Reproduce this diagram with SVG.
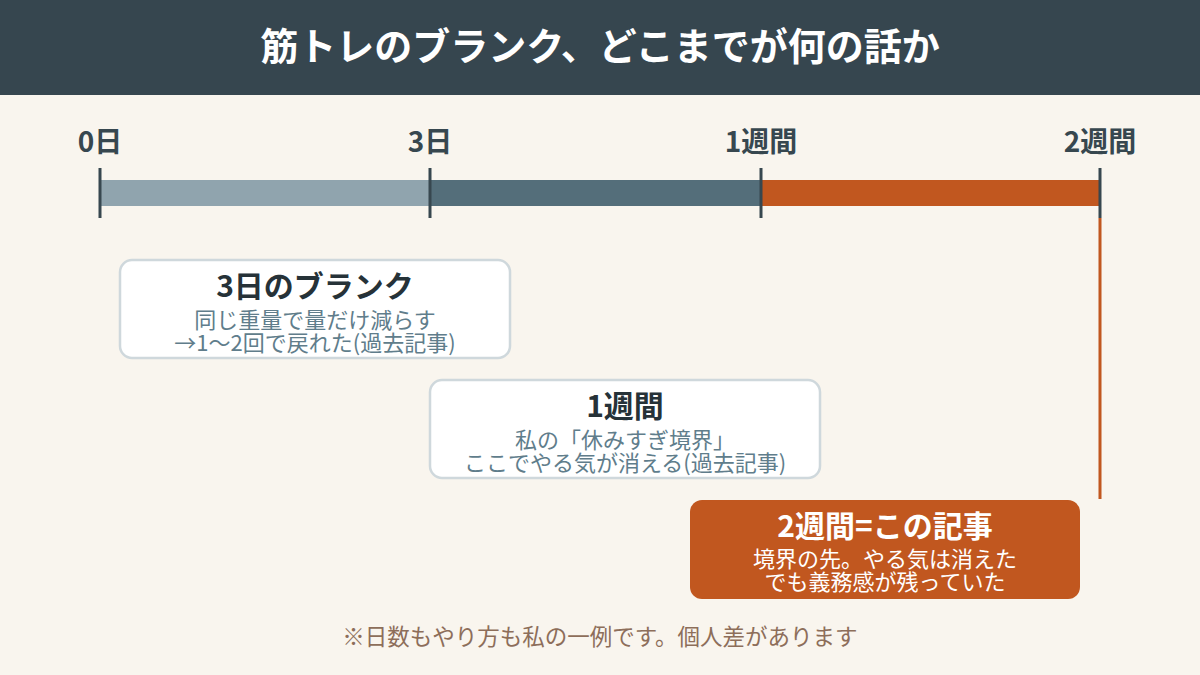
<svg xmlns="http://www.w3.org/2000/svg" width="1200" height="675" viewBox="0 0 1200 675">
<style>
text{font-family:"Noto Sans CJK JP","Noto Sans",sans-serif;text-anchor:middle}
.tick-label{font-size:28px;font-weight:700;fill:#37474f}
.tick{stroke:#37474f;stroke-width:3}
.card{fill:#ffffff;stroke:#cfd8dc;stroke-width:2.5}
.card-title{font-size:30px;font-weight:700;fill:#263238}
.card-text{font-size:22px;fill:#607d8b}
.hl{fill:#c1571f}
.hl-title{font-size:30px;font-weight:700;fill:#ffffff}
.hl-text{font-size:22px;fill:#ffffff}
</style>
<rect width="1200" height="675" fill="#f9f5ee"/>
<g id="header">
<rect width="1200" height="95" fill="#36464f"/>
<text x="600" y="60" font-size="38" font-weight="700" fill="#ffffff">筋トレのブランク、どこまでが何の話か</text>
</g>
<g id="timeline">
<rect x="100" y="180" width="330" height="26" fill="#90a4ae"/>
<rect x="430" y="180" width="331" height="26" fill="#546e7a"/>
<rect x="761" y="180" width="339" height="26" fill="#c1571f"/>
<line class="tick" x1="100" y1="168" x2="100" y2="218"/>
<line class="tick" x1="430" y1="168" x2="430" y2="218"/>
<line class="tick" x1="761" y1="168" x2="761" y2="218"/>
<line class="tick" x1="1100" y1="168" x2="1100" y2="218"/>
<text class="tick-label" x="100" y="152">0日</text>
<text class="tick-label" x="430" y="152">3日</text>
<text class="tick-label" x="761" y="152">1週間</text>
<text class="tick-label" x="1100" y="152">2週間</text>
</g>
<g id="connectors">
<line x1="1100" y1="218" x2="1100" y2="499" stroke="#c1571f" stroke-width="3"/>
</g>
<g id="card-3days">
<rect class="card" x="120" y="260" width="390" height="98" rx="12"/>
<text class="card-title" x="315" y="297">3日のブランク</text>
<text class="card-text" x="315" y="328">同じ重量で量だけ減らす</text>
<text class="card-text" x="315" y="351">→1〜2回で戻れた(過去記事)</text>
</g>
<g id="card-1week">
<rect class="card" x="430" y="380" width="390" height="98" rx="12"/>
<text class="card-title" x="625" y="417">1週間</text>
<text class="card-text" x="625" y="448">私の「休みすぎ境界」</text>
<text class="card-text" x="625" y="471">ここでやる気が消える(過去記事)</text>
</g>
<g id="card-2weeks">
<rect class="hl" x="690" y="500" width="390" height="99" rx="12"/>
<text class="hl-title" x="885" y="537">2週間=この記事</text>
<text class="hl-text" x="885" y="567">境界の先。やる気は消えた</text>
<text class="hl-text" x="885" y="590">でも義務感が残っていた</text>
</g>
<g id="footnote">
<text x="600" y="645" font-size="22.5" fill="#8d6e5a">※日数もやり方も私の一例です。個人差があります</text>
</g>
</svg>
